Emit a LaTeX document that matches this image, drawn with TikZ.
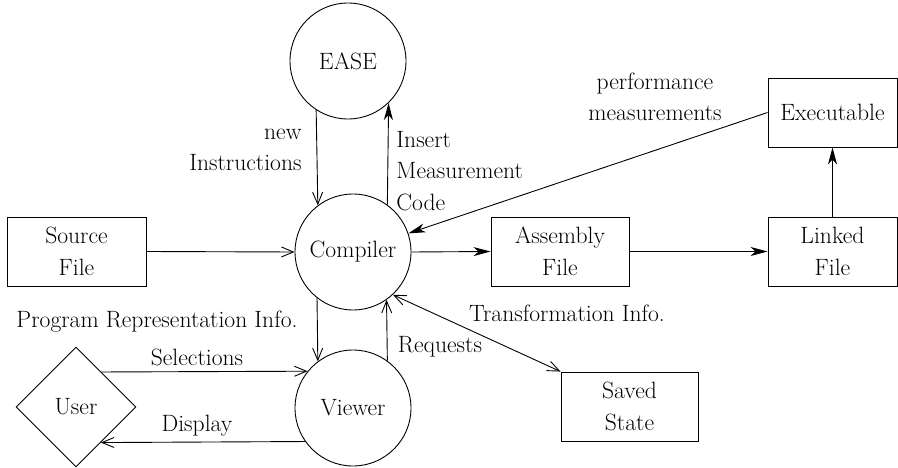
\documentclass[tikz,border=0pt]{standalone}
\usetikzlibrary{arrows.meta,shapes.geometric}
\begin{document}
\begin{tikzpicture}[x=1pt,y=-1pt,line width=0.9pt,
  every node/.style={font=\rmfamily\fontsize{23.6}{31.5}\selectfont, inner sep=0pt},
  circ/.style={draw, circle, minimum size=116pt},
  box/.style={draw, rectangle, align=center, minimum height=69pt},
  oarr/.style={-{Straight Barb[length=12pt,width=10pt]}},
  oarrboth/.style={{Straight Barb[length=12pt,width=10pt]}-{Straight Barb[length=12pt,width=10pt]}},
  farr/.style={-{Stealth[length=17pt,width=9pt,inset=5pt]}}]
\useasboundingbox (0,0) rectangle (898,468);
% nodes
\node[circ] (ease) at (348,61) {EASE};
\node[circ] (compiler) at (353,252) {Compiler};
\node[circ] (viewer) at (353,408) {Viewer};
\node[box, minimum width=139pt] (source) at (76.5,251.5) {Source\\File};
\node[box, minimum width=138pt] (assembly) at (560,251.5) {Assembly\\File};
\node[box, minimum width=129pt] (linked) at (832.5,251.5) {Linked\\File};
\node[box, minimum width=129pt] (exec) at (832.5,112.5) {Executable};
\node[box, minimum width=137pt] (saved) at (629.5,406.5) {Saved\\State};
\node[draw, diamond, shape aspect=1, minimum width=120pt, minimum height=120pt] (user) at (76,407) {User};
% labels
\node[align=right, anchor=east] (lnew) at (302,150) {new\\Instructions};
\node[align=left, anchor=west] (lins) at (396,171) {Insert\\Measurement\\Code};
\node[align=center] (lperf) at (655,97) {performance\\measurements};
\node (lprog) at (157,322) {Program Representation Info.};
\node (lreq) at (440,347) {Requests};
\node (ltrans) at (567,313) {Transformation Info.};
\node (lsel) at (197,357) {Selections};
\node (ldisp) at (197,426) {Display};
% connectors
\draw[oarr] (ease.237.6) -- (compiler.127.1);
\draw[farr] (compiler.54.1) -- (ease.314.1);
\draw[oarr] (compiler.232.9) -- (viewer.127.1);
\draw[oarr] (viewer.54.1) -- (compiler.305.9);
\draw[oarr] (source.east) -- (compiler.west);
\draw[farr] (compiler.east) -- (assembly.west);
\draw[farr] (assembly.east) -- (linked.west);
\draw[farr] (linked.north) -- (exec.south);
\draw[farr] (exec.west) -- (compiler);
\draw[oarrboth] (compiler.313.6) -- (saved.north west);
\draw[oarr] (user.54.5) -- (viewer.141.6);
\draw[oarr] (viewer.215.9) -- (user.305.5);
\end{tikzpicture}
\end{document}
